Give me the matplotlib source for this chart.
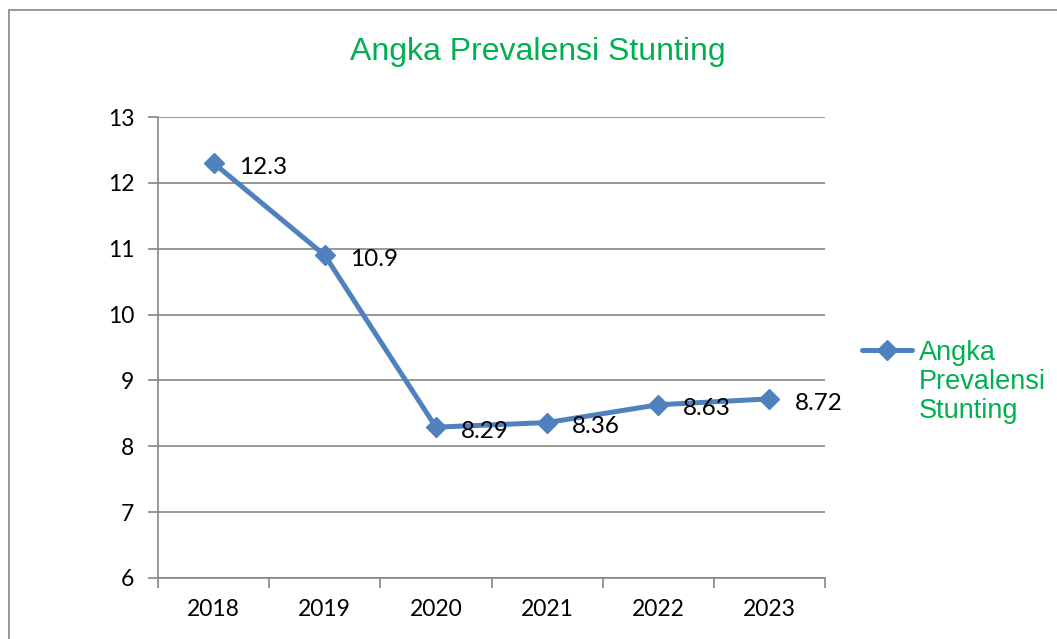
import matplotlib
matplotlib.use("Agg")
import matplotlib.pyplot as plt
from matplotlib.patches import Rectangle
from matplotlib.lines import Line2D

# data
tahun = ["2018", "2019", "2020", "2021", "2022", "2023"]
prevalensi = [12.3, 10.9, 8.29, 8.36, 8.63, 8.72]
label_nilai = ["12.3", "10.9", "8.29", "8.36", "8.63", "8.72"]
judul = "Angka Prevalensi Stunting"
seri = "Angka\nPrevalensi\nStunting"

biru = "#4F81BD"
hijau = "#00B050"
abu = "#868686"

fig = plt.figure(figsize=(10.57, 6.39), dpi=100)
ax = fig.add_axes([0.1495, 0.0955, 0.631, 0.7214])

# outer chart border
fig.add_artist(Rectangle((9 / 1057, -0.05), 1.2, 1 - 10 / 639 + 0.05,
                         transform=fig.transFigure, fill=False,
                         edgecolor=abu, linewidth=1.2))

x = list(range(len(tahun)))
ax.plot(x, prevalensi, color=biru, linewidth=3.6, marker="D",
        markersize=10.5, label=seri, zorder=3)

for xi, yi, t in zip(x, prevalensi, label_nilai):
    ax.annotate(t, (xi, yi), xytext=(18, -3), textcoords="offset points",
                ha="left", va="center", fontsize=17.5, family="Lato")

ax.set_xlim(-0.5, len(tahun) - 0.5)
ax.set_ylim(6, 13)
ax.set_yticks(range(6, 14))
ax.yaxis.grid(True, color=abu, linewidth=1.2)
ax.set_axisbelow(True)

ax.set_xticks(x)
ax.set_xticklabels(tahun)
ax.set_xticks([i - 0.5 for i in range(len(tahun) + 1)], minor=True)
ax.tick_params(axis="x", which="major", length=0, pad=15, labelsize=16.5)
ax.tick_params(axis="x", which="minor", length=7, color=abu, width=1.2)
ax.tick_params(axis="y", length=7, color=abu, width=1.2, pad=10, labelsize=16.5)
for lab in ax.get_xticklabels() + ax.get_yticklabels():
    lab.set_family("Lato")

for s in ["top", "right"]:
    ax.spines[s].set_visible(False)
for s in ["left", "bottom"]:
    ax.spines[s].set_color(abu)
    ax.spines[s].set_linewidth(1.2)

fig.text(0.509, 0.919, judul, ha="center", va="center", color=hijau,
         fontsize=23, family="Liberation Sans")

# legend, drawn by hand so the marker sits on the first text line
ly = 1 - 350 / 639
fig.add_artist(Line2D([862 / 1057, 912 / 1057], [ly, ly],
                      transform=fig.transFigure, color=biru, linewidth=3.6,
                      solid_capstyle="round"))
fig.add_artist(Line2D([887 / 1057], [ly], transform=fig.transFigure,
                      color=biru, marker="D", markersize=10.5))
fig.text(919 / 1057, 1 - 340 / 639, seri, ha="left", va="top", color=hijau,
         fontsize=19.5, family="Liberation Sans", linespacing=1.16)

fig.savefig("out.png", dpi=100)
